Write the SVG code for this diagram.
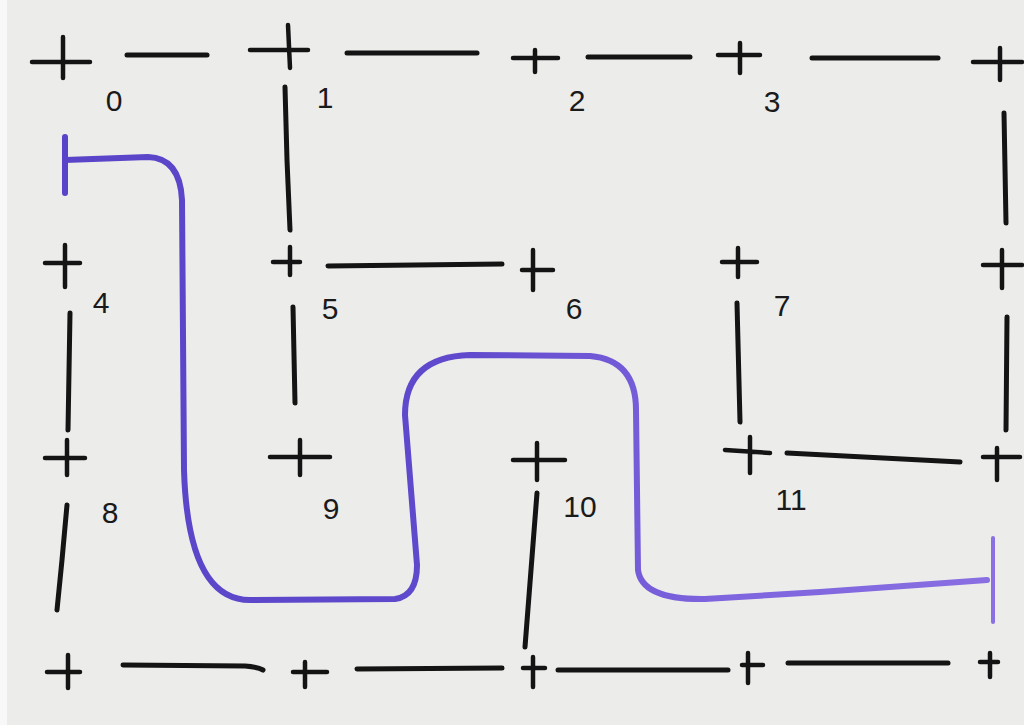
<svg xmlns="http://www.w3.org/2000/svg" width="1024" height="725" viewBox="0 0 1024 725">
<style>
.bg{fill:#ececea}
.w{stroke:#141414;stroke-width:5;stroke-linecap:round;stroke-linejoin:round;fill:none}
.p{stroke:#141414;stroke-width:4.5;stroke-linecap:round;fill:none}
.lbl{font-family:"Liberation Sans",Arial,sans-serif;font-size:30px;fill:#1a1a1a;text-anchor:middle;dominant-baseline:central}
.sol{fill:none;stroke-linecap:round;stroke-linejoin:round}
</style>
<defs>
<linearGradient id="solgrad" x1="0" y1="0" x2="1024" y2="0" gradientUnits="userSpaceOnUse">
<stop offset="0" stop-color="#5844c8"/>
<stop offset="0.45" stop-color="#6049cc"/>
<stop offset="0.7" stop-color="#7e64de"/>
<stop offset="1" stop-color="#8a70e2"/>
</linearGradient>
</defs>
<rect class="bg" x="0" y="0" width="1024" height="725"/>
<rect x="0" y="0" width="7" height="725" fill="#f8f8f8"/>
<g id="posts">
<path class="p" d="M32,62 L90,62 M63,37 L63,78"/>
<path class="p" d="M250,50 L308,50 M288,25 L290,68"/>
<path class="p" d="M513,58 L558,58 M535,50 L535,72"/>
<path class="p" d="M718,55 L760,55 M740,43 L740,73"/>
<path class="p" d="M973,62 L1022,62 M1000,48 L1000,80"/>
<path class="p" d="M45,263 L80,263 M65,245 L65,287"/>
<path class="p" d="M273,262 L300,262 M290,247 L290,275"/>
<path class="p" d="M522,270 L553,270 M533,250 L533,290"/>
<path class="p" d="M722,262 L757,262 M738,248 L738,277"/>
<path class="p" d="M983,265 L1022,265 M1002,250 L1002,288"/>
<path class="p" d="M45,458 L85,458 M67,440 L67,475"/>
<path class="p" d="M270,457 L330,457 M300,440 L300,475"/>
<path class="p" d="M513,460 L565,460 M537,443 L537,480"/>
<path class="p" d="M725,450 L770,453 M750,437 L750,473"/>
<path class="p" d="M983,457 L1020,457 M997,448 L997,480"/>
<path class="p" d="M47,672 L80,672 M68,655 L68,688"/>
<path class="p" d="M293,672 L327,672 M305,662 L305,687"/>
<path class="p" d="M523,668 L545,668 M533,657 L533,687"/>
<path class="p" d="M742,665 L763,665 M748,653 L748,683"/>
<path class="p" d="M980,662 L998,662 M990,653 L990,677"/>
</g>
<g id="walls">
<path class="w" d="M127,55 L207,55"/>
<path class="w" d="M347,53 L477,53"/>
<path class="w" d="M588,57 L690,57"/>
<path class="w" d="M812,58 L938,58"/>
<path class="w" d="M285,87 L287,160 L290,230"/>
<path class="w" d="M1004,113 L1006,223"/>
<path class="w" d="M328,266 L502,264"/>
<path class="w" d="M70,313 L68,430"/>
<path class="w" d="M293,307 L295,403"/>
<path class="w" d="M737,303 L740,422"/>
<path class="w" d="M1007,317 L1006,430"/>
<path class="w" d="M787,453 L960,462"/>
<path class="w" d="M67,505 L62,560 L57,610"/>
<path class="w" d="M537,493 L525,647"/>
<path class="w" d="M123,665 L245,666 Q258,667 263,670"/>
<path class="w" d="M357,669 L502,668"/>
<path class="w" d="M558,670 L728,670"/>
<path class="w" d="M788,663 L948,663"/>
</g>
<g id="cell-0"><text class="lbl" x="114" y="100">0</text></g>
<g id="cell-1"><text class="lbl" x="325" y="97">1</text></g>
<g id="cell-2"><text class="lbl" x="577" y="100">2</text></g>
<g id="cell-3"><text class="lbl" x="772" y="101">3</text></g>
<g id="cell-4"><text class="lbl" x="101" y="302">4</text></g>
<g id="cell-5"><text class="lbl" x="330" y="308">5</text></g>
<g id="cell-6"><text class="lbl" x="574" y="308">6</text></g>
<g id="cell-7"><text class="lbl" x="782" y="305">7</text></g>
<g id="cell-8"><text class="lbl" x="110" y="512">8</text></g>
<g id="cell-9"><text class="lbl" x="331" y="508">9</text></g>
<g id="cell-10"><text class="lbl" x="580" y="506">10</text></g>
<g id="cell-11"><text class="lbl" x="791" y="499">11</text></g>
<g id="connectors">
<path class="sol" stroke="#5844c8" stroke-width="6" d="M65,137 L65,193"/>
<path class="sol" stroke="url(#solgrad)" stroke-width="6" d="M65,160 L148,157 Q180,158 182,200 L184,470 Q188,600 250,600 L395,599 Q417,596 417,565 L405,415 Q405,357 470,355 L590,356 Q636,360 636,410 L638,570 Q642,600 705,599 L820,592 L987,580"/>
<path class="sol" stroke="#8a70e2" stroke-width="4" d="M993,538 L993,622"/>
</g>
</svg>
